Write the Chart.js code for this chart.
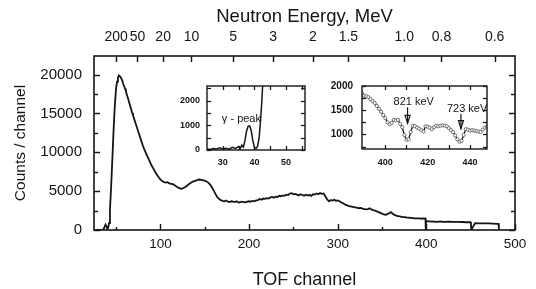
<!DOCTYPE html>
<html><head><meta charset="utf-8">
<script src="https://cdn.jsdelivr.net/npm/chart.js@4.4.1/dist/chart.umd.min.js"></script>
<style>
html,body{margin:0;padding:0;background:#fff;}
#wrap{position:relative;width:536px;height:289px;overflow:hidden;background:#fff;}
#wrap canvas{position:absolute;}
</style></head><body>
<div id="wrap">
<canvas id="main" width="536" height="289" style="left:0;top:0;"></canvas>
<canvas id="in1" width="145" height="95" style="left:170px;top:78px;"></canvas>
<canvas id="in2" width="175" height="95" style="left:320px;top:78px;"></canvas>
</div>
<script>
// ---- main spectrum ----
const channels = [28,32,35,36,37,38,39,40,41,42,43,44,45,46,47,48,49,50,51,52,53,54,55,56,57,58,59,60,61,62,63,64,65,66,67,68,69,70,72,74,76,78,80,82,84,86,88,90,92,94,96,98,100,102,104,106,108,110,112,114,116,118,120,122,124,126,128,130,132,134,136,138,140,142,144,146,148,150,152,154,156,158,160,162,164,166,168,170,172,174,176,178,180,182,184,186,188,190,192,194,196,198,200,202,204,206,208,210,212,214,216,218,220,222,224,226,228,230,232,234,236,238,240,242,244,246,248,250,252,254,256,258,260,262,264,266,268,270,272,274,276,278,280,282,284,286,288,290,292,294,296,298,300,302,304,306,308,310,312,314,316,318,320,322,324,326,328,330,332,334,336,338,340,342,344,346,348,350,352,354,356,358,360,362,364,366,368,370,372,374,376,378,380,382,384,386,388,390,392,394,396,398,399,399.3,399.6,402,404,406,408,410,412,414,416,418,420,425,430,435,440,445,450,450.3,450.6,455,460,465,470,475,480,481.5,481.8];
const counts = [0,20,60,150,450,700,500,150,250,900,2600,4800,7300,9900,12600,15000,16900,18300,19100,19600,19900,19800,19700,19450,19200,18800,18500,18200,17900,17400,17100,16700,16300,15900,15500,15100,14800,14400,13700,13000,12300,11600,10900,10300,9800,9300,8800,8300,7900,7500,7100,6800,6500,6300,6150,6100,6150,6000,5950,5900,5750,5600,5450,5350,5300,5400,5550,5700,5900,6050,6200,6300,6350,6450,6500,6450,6400,6350,6250,6100,5850,5500,5100,4650,4250,4000,3850,3750,3700,3800,3650,3600,3700,3650,3600,3700,3550,3600,3650,3600,3550,3650,3700,3650,3750,3700,3800,3850,4000,3900,4050,4000,4100,4050,4200,4250,4150,4300,4250,4400,4350,4450,4400,4550,4500,4700,4750,4600,4650,4550,4450,4600,4500,4400,4550,4450,4500,4400,4600,4550,4700,4600,4750,4650,4700,4350,3950,3700,3850,3800,3900,3750,3800,3700,3550,3450,3300,3200,3100,3050,3000,2950,2900,2850,2800,2850,2750,2700,2650,2700,2800,2650,2550,2500,2400,2300,2200,2100,2000,1950,2050,2150,2300,2100,1950,1850,1800,1750,1700,1650,1650,1600,1600,1550,1550,1500,1500,1500,1500,1450,1500,1480,1470,0,1150,1120,1100,1080,1100,1060,1050,1080,1100,1060,1050,1060,1040,1050,1030,1000,1020,1000,0,880,860,850,840,820,800,790,0];
const xTicks = [100,200,300,400,500];
const xMinorTicks = [50,150,250,350,450];
const yTicks = [0,5000,10000,15000,20000];
const yMinorTicks = [2500,7500,12500,17500];
const energyTickChannels = [50,74,103,135,182,227,272,312,375,417,477];
const energyTickLabels = ['200','50','20','10','5','3','2','1.5','1.0','0.8','0.6'];

// ---- inset 1: gamma peak ----
const gammaChannels = [25,26,27,28,29,30,31,32,33,34,35,35.5,36,36.5,37,37.5,38,38.5,39,39.5,40,40.5,41,41.5,42,42.3,42.6,43];
const gammaCounts   = [40,20,60,30,90,40,70,30,110,60,140,60,200,120,380,760,960,980,780,380,100,60,150,500,1300,1900,2600,3300];
const gammaXTicks = [30,40,50];
const gammaXMinor = [35,45,55];
const gammaYTicks = [0,1000,2000];
const gammaYMinor = [500,1500,2500];
const gammaNote = {text:'\u03b3 - peak', channel:29.7, counts:1260};

// ---- inset 2: zoom 389-448 ----
const zoomChannels = [389,390,391,392,393,394,395,396,397,398,399,400,401,402,403,404,405,406,407,408,409,410,411,412,413,414,415,416,417,418,419,420,421,422,423,424,425,426,427,428,429,430,431,432,433,434,435,436,437,438,439,440,441,442,443,444,445,446,447,448];
const zoomCounts = [1850,1800,1790,1770,1730,1690,1650,1590,1530,1470,1400,1340,1250,1210,1240,1300,1290,1300,1220,1150,990,890,900,1050,1180,1170,1140,1120,1090,1060,1170,1160,1140,1110,1150,1180,1170,1180,1190,1180,1170,1130,1090,1050,980,900,850,870,990,1110,1100,1080,1090,1080,1070,1060,1050,1100,1140,1160];
const zoomXTicks = [400,420,440];
const zoomXMinor = [410,430];
const zoomYTicks = [1000,1500,2000];
const zoomYMinor = [750,1250,1750];
const zoomNotes = [
  {text:'821 keV', channel:410.5, textCounts:1680, fromCounts:1560, toCounts:1230},
  {text:'723 keV', channel:435.7, textCounts:1520, fromCounts:1420, toCounts:1120}
];

const FONT = '"Liberation Sans", Arial, Helvetica, sans-serif';
const INK = '#151515';
const plain = v => String(v);

function fixSize(prop, size) {
  return function (s) {
    s[prop] = size;
    s.paddingLeft = 0; s.paddingRight = 0; s.paddingTop = 0; s.paddingBottom = 0;
  };
}
function setTicks(values) {
  return function (s) { s.ticks = values.map(v => ({value: v})); };
}
function framePlugin(sets, lw) {
  return {
    id: 'frame',
    afterDatasetsDraw(chart) {
      const {ctx, chartArea: a} = chart;
      ctx.save();
      ctx.strokeStyle = INK;
      ctx.lineWidth = lw;
      ctx.strokeRect(a.left, a.top, a.right - a.left, a.bottom - a.top);
      ctx.lineWidth = lw * 0.9;
      for (const t of sets) {
        const s = chart.scales[t.scale];
        for (const v of t.values) {
          const p = Math.round(s.getPixelForValue(v)) + 0.5;
          ctx.beginPath();
          if (t.edge === 'bottom') { ctx.moveTo(p, a.bottom); ctx.lineTo(p, a.bottom - t.len); }
          else if (t.edge === 'top') { ctx.moveTo(p, a.top); ctx.lineTo(p, a.top + t.len); }
          else if (t.edge === 'left') { ctx.moveTo(a.left, p); ctx.lineTo(a.left + t.len, p); }
          else { ctx.moveTo(a.right, p); ctx.lineTo(a.right - t.len, p); }
          ctx.stroke();
        }
      }
      ctx.restore();
    }
  };
}
function pts(xs, ys) { return xs.map((x, i) => ({x: x, y: ys[i]})); }
function noGrid() { return {display: false, drawTicks: false}; }

Chart.defaults.font.family = FONT;
Chart.defaults.color = INK;

// ---------- main chart ----------
new Chart(document.getElementById('main'), {
  type: 'line',
  data: {datasets: [{data: pts(channels, counts), borderColor: INK, borderWidth: 1.8, pointRadius: 0, tension: 0, fill: false}]},
  options: {
    responsive: false, animation: false, devicePixelRatio: 1,
    layout: {padding: {left: 0, right: 21, top: 0, bottom: 0}},
    plugins: {legend: {display: false}, tooltip: {enabled: false}},
    scales: {
      x: {type: 'linear', position: 'bottom', min: 25, max: 500,
        grid: noGrid(), border: {display: false},
        afterBuildTicks: setTicks(xTicks), afterFit: fixSize('height', 59),
        ticks: {padding: 6, maxRotation: 0, autoSkip: false, font: {size: 13.5}, color: INK, callback: plain},
        title: {display: true, text: 'TOF channel', font: {size: 18, lineHeight: 1}, padding: {top: 0, bottom: 0}, color: INK}},
      x2: {type: 'linear', position: 'top', min: 25, max: 500,
        grid: noGrid(), border: {display: false},
        afterBuildTicks: setTicks(energyTickChannels), afterFit: fixSize('height', 56),
        ticks: {padding: 10, maxRotation: 0, autoSkip: false, font: {size: 14}, color: INK,
          callback: (v, i) => energyTickLabels[i]},
        title: {display: true, text: 'Neutron Energy, MeV', font: {size: 18.5, lineHeight: 1}, padding: {top: 8, bottom: 0}, color: INK}},
      y: {type: 'linear', position: 'left', min: 0, max: 22400,
        grid: noGrid(), border: {display: false},
        afterBuildTicks: setTicks(yTicks), afterFit: fixSize('width', 94),
        ticks: {padding: 12, autoSkip: false, font: {size: 15}, color: INK, callback: plain},
        title: {display: true, text: 'Counts / channel', font: {size: 15.5, lineHeight: 1}, padding: {top: 13, bottom: 0}, color: INK}}
    }
  },
  plugins: [framePlugin([
    {scale: 'x', edge: 'bottom', values: xTicks, len: 6},
    {scale: 'x', edge: 'bottom', values: xMinorTicks, len: 3},
    {scale: 'x2', edge: 'top', values: energyTickChannels, len: 6},
    {scale: 'y', edge: 'left', values: yTicks, len: 6},
    {scale: 'y', edge: 'left', values: yMinorTicks, len: 4},
    {scale: 'y', edge: 'right', values: yTicks, len: 6},
    {scale: 'y', edge: 'right', values: yMinorTicks, len: 4}
  ], 1.6)]
});

// ---------- inset 1 ----------
const gammaNotePlugin = {
  id: 'gnote',
  afterDatasetsDraw(chart) {
    const {ctx} = chart;
    const x = chart.scales.x.getPixelForValue(gammaNote.channel);
    const y = chart.scales.y.getPixelForValue(gammaNote.counts);
    ctx.save();
    ctx.font = '11px ' + FONT;
    ctx.fillStyle = INK; ctx.textAlign = 'left'; ctx.textBaseline = 'middle';
    ctx.fillText(gammaNote.text, x, y);
    ctx.restore();
  }
};
new Chart(document.getElementById('in1'), {
  type: 'line',
  data: {datasets: [{data: pts(gammaChannels, gammaCounts), borderColor: INK, borderWidth: 1.5, pointRadius: 0, tension: 0}]},
  options: {
    responsive: false, animation: false, devicePixelRatio: 1,
    layout: {padding: {left: 0, right: 10, top: 8, bottom: 0}},
    plugins: {legend: {display: false}, tooltip: {enabled: false}},
    scales: {
      x: {type: 'linear', min: 25, max: 56, grid: noGrid(), border: {display: false},
        afterBuildTicks: setTicks(gammaXTicks), afterFit: fixSize('height', 23),
        ticks: {padding: 7.5, maxRotation: 0, autoSkip: false, font: {size: 9, weight: 'bold'}, color: INK, callback: plain}},
      y: {type: 'linear', min: 0, max: 2600, grid: noGrid(), border: {display: false},
        afterBuildTicks: setTicks(gammaYTicks), afterFit: fixSize('width', 37),
        ticks: {padding: 7, autoSkip: false, font: {size: 9, weight: 'bold'}, color: INK, callback: plain}}
    }
  },
  plugins: [gammaNotePlugin, framePlugin([
    {scale: 'x', edge: 'bottom', values: gammaXTicks.concat(gammaXMinor), len: 4},
    {scale: 'x', edge: 'top', values: gammaXTicks.concat(gammaXMinor), len: 4},
    {scale: 'y', edge: 'left', values: gammaYTicks.concat(gammaYMinor), len: 4},
    {scale: 'y', edge: 'right', values: gammaYTicks.concat(gammaYMinor), len: 4}
  ], 1.4)]
});

// ---------- inset 2 ----------
const zoomNotePlugin = {
  id: 'znote',
  afterDatasetsDraw(chart) {
    const {ctx} = chart;
    const sx = chart.scales.x, sy = chart.scales.y;
    ctx.save();
    ctx.font = '11px ' + FONT;
    ctx.fillStyle = INK; ctx.strokeStyle = INK;
    ctx.textAlign = 'left'; ctx.textBaseline = 'middle';
    for (const n of zoomNotes) {
      const x = sx.getPixelForValue(n.channel);
      const yt = sy.getPixelForValue(n.textCounts);
      const y0 = sy.getPixelForValue(n.fromCounts);
      const y1 = sy.getPixelForValue(n.toCounts);
      ctx.fillText(n.text, x - 14, yt);
      ctx.lineWidth = 1.2;
      ctx.beginPath(); ctx.moveTo(x, y0); ctx.lineTo(x, y1); ctx.stroke();
      ctx.beginPath(); ctx.moveTo(x - 2.5, y1 - 8); ctx.lineTo(x, y1); ctx.lineTo(x + 2.5, y1 - 8); ctx.closePath(); ctx.stroke();
    }
    ctx.restore();
  }
};
new Chart(document.getElementById('in2'), {
  type: 'line',
  data: {datasets: [{data: pts(zoomChannels, zoomCounts), borderColor: INK, borderWidth: 1.3, pointRadius: 1.6,
    pointBorderWidth: 0.8, pointBackgroundColor: '#ffffff', pointBorderColor: '#555', tension: 0}]},
  options: {
    responsive: false, animation: false, devicePixelRatio: 1,
    layout: {padding: {left: 0, right: 8, top: 8, bottom: 0}},
    plugins: {legend: {display: false}, tooltip: {enabled: false}},
    scales: {
      x: {type: 'linear', min: 389, max: 448, grid: noGrid(), border: {display: false},
        afterBuildTicks: setTicks(zoomXTicks), afterFit: fixSize('height', 24),
        ticks: {padding: 8.5, maxRotation: 0, autoSkip: false, font: {size: 9, weight: 'bold'}, color: INK, callback: plain}},
      y: {type: 'linear', min: 700, max: 2000, grid: noGrid(), border: {display: false},
        afterBuildTicks: setTicks(zoomYTicks), afterFit: fixSize('width', 42),
        ticks: {padding: 9, autoSkip: false, font: {size: 10, weight: 'bold'}, color: INK, callback: plain}}
    }
  },
  plugins: [zoomNotePlugin, framePlugin([
    {scale: 'x', edge: 'bottom', values: zoomXTicks.concat(zoomXMinor), len: 4},
    {scale: 'x', edge: 'top', values: zoomXTicks.concat(zoomXMinor), len: 4},
    {scale: 'y', edge: 'left', values: zoomYTicks.concat(zoomYMinor), len: 4},
    {scale: 'y', edge: 'right', values: zoomYTicks.concat(zoomYMinor), len: 4}
  ], 1.4)]
});
</script>
</body></html>
